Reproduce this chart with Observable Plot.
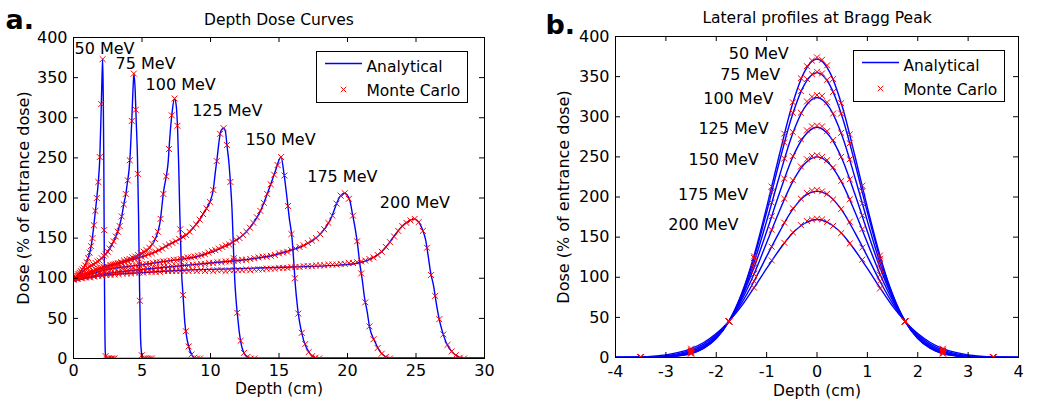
<!DOCTYPE html>
<html><head><meta charset="utf-8">
<script src="https://cdn.jsdelivr.net/npm/d3@7"></script>
<script src="https://cdn.jsdelivr.net/npm/@observablehq/plot@0.6"></script>
<style>
html,body{margin:0;padding:0;background:#fff;}
#wrap{position:relative;width:1050px;height:409px;overflow:hidden;font-family:"DejaVu Sans",sans-serif;}
#wrap .panel{position:absolute;top:0;}
</style></head><body><div id="wrap"></div>
<script>
const energies = ["50 MeV","75 MeV","100 MeV","125 MeV","150 MeV","175 MeV","200 MeV"];

// ---------- Panel a: depth dose, analytical curves [depth cm, dose %]
const dd50 = [[0,98],[0.4,106],[0.8,115],[1.1,127],[1.3,141],[1.5,168],[1.7,200],[1.81,220],[1.92,250],[2.02,310],[2.08,350],[2.13,373],[2.17,330],[2.21,250],[2.25,120],[2.28,55],[2.32,8],[2.38,0],[30,0]];
const dd75 = [[0,98],[0.75,110],[1.7,120],[2.45,132],[2.96,147],[3.2,157],[3.4,168],[3.55,180],[3.68,193],[3.82,205],[3.94,220],[4.06,236],[4.15,258],[4.25,295],[4.33,330],[4.41,355],[4.5,335],[4.58,295],[4.67,250],[4.75,175],[4.82,90],[4.89,28],[4.97,6],[5.05,0],[30,0]];
const dd100 = [[0,98],[1,106],[2.2,114],[3.43,120],[4.65,128],[5.5,137],[6.0,150],[6.3,168],[6.6,211],[6.79,229],[6.91,245],[6.98,263],[7.1,290],[7.2,307],[7.37,324],[7.5,315],[7.6,285],[7.68,240],[7.76,180],[7.88,110],[8.0,78],[8.12,46],[8.25,28],[8.42,14],[8.66,4],[8.9,0],[30,0]];
const dd125 = [[0,98],[1,106],[2.2,113],[3.43,119],[4.65,125],[5.86,132],[7.08,143],[8.3,155],[9.0,168],[9.6,184],[9.95,195],[10.2,210],[10.35,232],[10.5,252],[10.62,270],[10.75,283],[10.95,287],[11.09,283],[11.2,266],[11.35,243],[11.45,220],[11.57,186],[11.68,135],[11.77,98],[11.87,72],[12.0,49],[12.1,33],[12.24,18],[12.55,4],[12.9,0],[30,0]];
const dd150 = [[0,98],[2.2,110],[4.65,116],[7.08,122],[9.27,128],[11.2,141],[12.19,151],[12.92,164],[13.65,184],[14.14,205],[14.5,222],[14.74,234],[15.15,251],[15.35,232],[15.55,205],[15.75,175],[15.95,150],[16.08,120],[16.2,90],[16.3,72],[16.4,57],[16.57,39],[16.81,22],[17.18,8],[17.5,2],[17.9,0],[30,0]];
const dd175 = [[0,98],[2.5,106],[5,111],[7.5,115],[10,119],[12.5,123],[14.4,128],[15.5,133],[16.57,139],[17.54,148],[18.0,155],[18.4,163],[18.88,178],[19.25,195],[19.5,203],[19.8,206],[20.17,197],[20.34,182],[20.58,160],[20.75,140],[20.9,118],[21.07,99],[21.24,76],[21.44,58],[21.6,40],[21.97,22],[22.4,8],[22.8,2],[23.2,0],[30,0]];
const dd200 = [[0,97],[2,103],[5,107],[8,110],[12,112],[16,114],[19,116],[20.5,118],[21.7,124],[22.6,135],[23.0,143],[23.6,157],[24.0,165],[24.35,170],[24.9,174],[25.2,170],[25.44,162],[25.7,148],[25.87,130],[26.06,108],[26.3,89],[26.47,70],[26.67,51],[26.9,35],[27.2,20],[27.64,8],[28.1,2],[28.6,0],[30,0]];

// Monte Carlo depth doses, sampled from depth 0 every mcStep cm
const mcStep = [0.1065,0.1467,0.205,0.2489,0.2525,0.3,0.3];
const mc50 = [99,101,103,105,107,109,111,113,116,120,125,132,140,150,166,184,200,220,251,317,373,160,3,0,0,0,0,0,0];
const mc75 = [99,101,103,105,107,109,111,113,114,116,117,119,121,122,125,128,130,133,137,142,146,152,158,165,177,192,205,222,247,296,355,310,230,72,4,0,0,0,0,0];
const mc100 = [99,101,103,104,105,106,108,109,110,112,113,114,115,116,117,118,119,120,122,123,124,126,127,129,131,133,135,138,143,149,158,174,205,227,261,303,324,290,161,79,34,15,5,1,0,0];
const mc125 = [99,100,102,104,106,107,109,110,112,113,114,116,117,118,119,120,121,123,124,125,127,128,130,131,133,135,137,140,142,144,146,149,152,154,158,163,167,173,180,187,195,210,246,280,287,266,220,125,57,22,7,2,0,0];
const mc150 = [99,100,101,102,104,105,106,107,109,110,111,111,112,113,113,114,115,115,116,117,117,118,118,119,120,120,121,121,122,123,123,124,125,126,126,127,128,129,130,132,134,135,137,139,141,142,145,148,150,154,158,163,169,176,184,194,205,217,229,241,251,228,190,155,100,56,32,18,8,3,1,0];
const mc175 = [99,100,101,102,102,103,104,105,106,106,107,108,108,109,110,110,111,111,112,112,113,113,114,114,115,115,115,116,116,117,117,118,118,119,119,120,120,121,121,122,122,123,123,124,125,126,127,127,128,129,131,132,133,135,137,139,141,144,147,150,155,161,169,178,193,203,206,199,178,146,106,70,40,24,13,6,2,0];
const mc200 = [98,99,100,101,101,102,103,103,104,104,105,105,106,106,106,107,107,107,108,108,108,108,109,109,109,109,109,109,109,110,109,110,109,110,109,110,110,109,110,110,110,110,111,110,111,111,111,112,112,112,113,113,113,114,114,114,115,115,115,116,116,116,117,117,117,118,118,119,119,120,121,122,124,126,129,133,139,145,152,159,165,169,172,174,170,159,138,104,78,49,30,17,9,4,1,0];

const depthTicks = [0,5,10,15,20,25,30];
const doseTicks = [0,50,100,150,200,250,300,350,400];
const depthLabelAt = [0.07,3.07,5.26,8.66,12.55,17.06,22.36];
const depthLabelDose = [386,367,341,309,273,226,194];

// ---------- Panel b: lateral profiles at Bragg peak
const latX = [-4,-3.75,-3.5,-3.25,-3,-2.75,-2.5,-2.25,-2,-1.75,-1.5,-1.25,-1,-0.75,-0.5,-0.25,0,0.25,0.5,0.75,1,1.25,1.5,1.75,2,2.25,2.5,2.75,3,3.25,3.5,3.75,4];
const lat50 = [0,0,0.1,0.3,0.8,2,5,11.3,23.6,45,79,127,187,252,313,356,372,356,313,252,187,127,79,45,23.6,11.3,5,2,0.8,0.3,0.1,0,0];
const lat75 = [0,0,0.1,0.3,0.8,2.2,5.2,11.7,23.9,45,78,124,181,243,300,340,355,340,300,243,181,124,78,45,23.9,11.7,5.2,2.2,0.8,0.3,0.1,0,0];
const lat100 = [0,0,0.1,0.4,1,2.5,5.8,12.4,24.6,45,76,118,170,225,276,311,324,311,276,225,170,118,76,45,24.6,12.4,5.8,2.5,1,0.4,0.1,0,0];
const lat125 = [0,0.1,0.2,0.5,1.2,3,6.5,13.4,25.5,45,74,112,157,204,247,276,287,276,247,204,157,112,74,45,25.5,13.4,6.5,3,1.2,0.5,0.2,0.1,0];
const lat150 = [0,0.1,0.3,0.7,1.6,3.6,7.5,14.7,26.6,45,71,104,143,182,217,241,250,241,217,182,143,104,71,45,26.6,14.7,7.5,3.6,1.6,0.7,0.3,0.1,0];
const lat175 = [0.1,0.2,0.5,1.1,2.3,4.8,9.2,16.6,28.2,45,67.5,95,126,156,183,201,207,201,183,156,126,95,67.5,45,28.2,16.6,9.2,4.8,2.3,1.1,0.5,0.2,0.1];
const lat200 = [0.2,0.4,0.8,1.7,3.3,6.3,11.1,18.7,29.8,45,64,87,111,134,154,167,172,167,154,134,111,87,64,45,29.8,18.7,11.1,6.3,3.3,1.7,0.8,0.4,0.2];

const latMcX = [-3.5,-2.5,-1.75,-1.25,-0.9,-0.65,-0.48,-0.32,-0.2,-0.1,0,0.1,0.2,0.32,0.48,0.65,0.9,1.25,1.75,2.5,3.5];
const latMc50 = [0.1,5,45,126,213,279,318,348,363,370,374,371,364,347,317,278,214,127,45,5,0.1];
const latMc75 = [0.1,5,45,124,206,268,305,332,347,353,356,354,346,331,304,267,207,123,45,5,0.1];
const latMc100 = [0.1,6,45,118,193,248,281,305,319,325,327,326,318,304,280,247,192,118,45,6,0.1];
const latMc125 = [0.2,7,45,112,176,223,251,272,283,288,289,288,282,271,250,222,177,111,45,7,0.2];
const latMc150 = [0.3,8,45,104,159,198,221,238,247,251,252,250,246,237,220,197,160,103,45,8,0.3];
const latMc175 = [0.5,9,45,95,138,168,186,198,205,208,209,207,204,197,185,169,137,95,45,9,0.5];
const latMc200 = [0.8,11,45,87,121,143,156,165,170,172,173,172,169,164,155,142,122,86,45,11,0.8];

const lateralTicks = [-4,-3,-2,-1,0,1,2,3,4];
const latLabelAt = [-0.56,-0.73,-0.865,-0.96,-1.157,-1.367,-1.56];
const latLabelDose = [378,352,322,285,246,203,165];

// ---------- build tables
const ddAnalytic = [dd50,dd75,dd100,dd125,dd150,dd175,dd200];
const mcDepth = [mc50,mc75,mc100,mc125,mc150,mc175,mc200];
const latAnalytic = [lat50,lat75,lat100,lat125,lat150,lat175,lat200];
const latMc = [latMc50,latMc75,latMc100,latMc125,latMc150,latMc175,latMc200];

const lineA = ddAnalytic.flatMap((pts,i)=>pts.map(([x,y])=>({e:energies[i],x,y})));
const dotA = mcDepth.flatMap((vals,i)=>vals.map((y,j)=>({e:energies[i],x:j*mcStep[i],y})));
const labA = energies.map((t,i)=>({t,x:depthLabelAt[i],y:depthLabelDose[i]}));
const lineB = latAnalytic.flatMap((vals,i)=>vals.map((y,j)=>({e:energies[i],x:latX[j],y})));
const dotB = latMc.flatMap((vals,i)=>vals.map((y,j)=>({e:energies[i],x:latMcX[j],y})));
const labB = energies.map((t,i)=>({t,x:latLabelAt[i],y:latLabelDose[i]}));

const W = 525, H = 409;
const FONT = "DejaVu Sans";

function panel(o) {
  const fw = W - o.mL - o.mR, fh = H - o.mT - o.mB;
  return Plot.plot({
    width: W, height: H,
    marginLeft: o.mL, marginRight: o.mR, marginTop: o.mT, marginBottom: o.mB,
    x: {domain: o.xDomain}, y: {domain: [0,400]},
    style: {fontFamily: FONT, fontSize: "16px", color: "black", background: "white", overflow: "visible"},
    marks: [
      Plot.line(o.lines, {x:"x", y:"y", z:"e", stroke:"#0000ff", strokeWidth:1.4, curve:"monotone-x", clip:true}),
      Plot.dot(o.dots, {x:"x", y:"y", symbol:"times", r:2.8, stroke:"#ff0000", strokeWidth:1, clip:true}),
      Plot.frame({stroke:"black", strokeWidth:1}),
      Plot.tickX(o.xTicks, {x:d=>d, insetTop: fh-5, stroke:"black"}),
      Plot.tickX(o.xTicks, {x:d=>d, insetBottom: fh-5, stroke:"black"}),
      Plot.tickY(doseTicks, {y:d=>d, insetLeft: fw-5, stroke:"black"}),
      Plot.tickY(doseTicks, {y:d=>d, insetRight: fw-5, stroke:"black"}),
      Plot.axisX({ticks:o.xTicks, tickSize:0, tickPadding:o.xPad, tickFormat:d=>String(d), label:null, fontSize:16}),
      Plot.axisY({ticks:doseTicks, tickSize:0, tickPadding:6, tickFormat:d=>String(d), label:null, fontSize:16}),
      Plot.text(o.labels, {x:"x", y:"y", text:"t", textAnchor:o.labelAnchor, fontSize:16}),
      Plot.text(["Depth (cm)"], {text:d=>d, frameAnchor:"bottom", dy:o.xLabelDy, lineAnchor:"bottom", textAnchor:"middle", fontSize:15.5}),
      Plot.text(["Dose (% of entrance dose)"], {text:d=>d, frameAnchor:"left", rotate:-90, dx:o.yLabelDx, lineAnchor:"bottom", textAnchor:"middle", fontSize:16}),
      Plot.text([o.title], {text:d=>d, frameAnchor:"top", dy:o.titleDy, lineAnchor:"bottom", textAnchor:"middle", fontSize:15.5}),
      Plot.text([o.letter], {text:d=>d, frameAnchor:"top-left", dx:o.letterDx, dy:o.letterDy, lineAnchor:"bottom", textAnchor:"start", fontSize:27, fontWeight:"bold"})
    ]
  });
}

const wrap = document.getElementById("wrap");
const pa = panel({xDomain:[0,30], xTicks:depthTicks, lines:lineA, dots:dotA, labels:labA, labelAnchor:"start",
  title:"Depth Dose Curves", letter:"a.", mL:73, mR:41, mT:37, mB:51, xPad:6, xLabelDy:35, yLabelDx:-45,
  titleDy:-13, letterDx:-68, letterDy:-8.5});
pa.classList.add("panel"); pa.style.left = "0px";
wrap.appendChild(pa);
const pb = panel({xDomain:[-4,4], xTicks:lateralTicks, lines:lineB, dots:dotB, labels:labB, labelAnchor:"end",
  title:"Lateral profiles at Bragg Peak", letter:"b.", mL:90, mR:32, mT:36, mB:52, xPad:8, xLabelDy:38, yLabelDx:-47,
  titleDy:-14, letterDx:-70, letterDy:-3});
pb.classList.add("panel"); pb.style.left = "525px";
wrap.appendChild(pb);

function legend(left, top) {
  const div = document.createElement("div");
  div.style.cssText = `position:absolute;left:${left}px;top:${top}px;`;
  div.innerHTML = `<svg width="152" height="52" style="display:block;font-family:'DejaVu Sans';font-size:15.5px">
    <rect x="0.5" y="0.5" width="151" height="51" fill="white" stroke="black"/>
    <line x1="9" x2="46" y1="12.5" y2="12.5" stroke="#0000ff" stroke-width="1.4"/>
    <text x="50.5" y="20.5" fill="black">Analytical</text>
    <path d="M24.8,35.8L30.2,41.2M24.8,41.2L30.2,35.8" stroke="#ff0000" stroke-width="1" fill="none"/>
    <text x="50.5" y="44.5" fill="black">Monte Carlo</text></svg>`;
  wrap.appendChild(div);
}
legend(316, 51);
legend(853, 50);
</script></body></html>
